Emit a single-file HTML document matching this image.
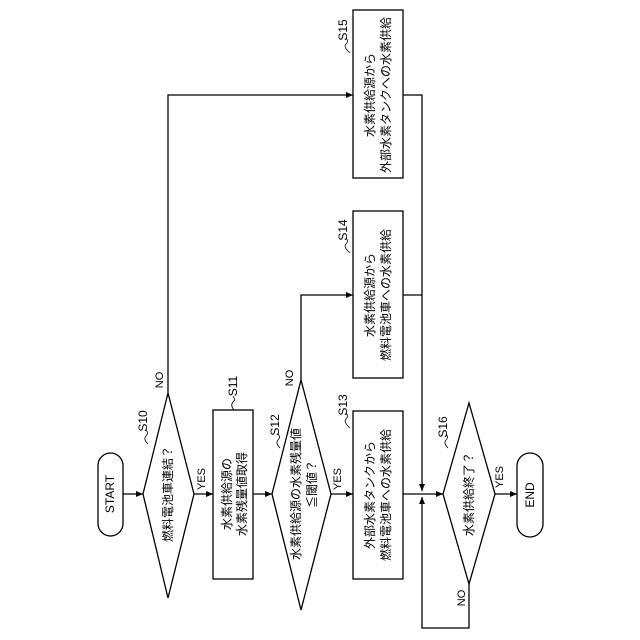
<!DOCTYPE html>
<html><head><meta charset="utf-8"><style>
html,body{margin:0;padding:0;background:#fff}
svg{display:block}
text{font-family:"Liberation Sans","Noto Sans CJK JP",sans-serif;font-size:12px;fill:#000}
</style></head><body>
<svg width="640" height="640" viewBox="0 0 640 640" xmlns="http://www.w3.org/2000/svg">
<defs>
<marker id="a" markerWidth="8" markerHeight="8" refX="7" refY="4" orient="auto" markerUnits="userSpaceOnUse">
<path d="M0,1 L7,4 L0,7 Z" fill="#000"/></marker>
</defs>
<g stroke="#000" stroke-width="1.3" fill="none">
<!-- shapes -->
<rect x="98" y="453" width="25" height="83" rx="12.5"/>
<polygon points="143,494 168,393 194,494 168,598"/>
<rect x="213" y="410" width="40" height="169"/>
<polygon points="272,494 301,380 331,494 301,610"/>
<rect x="353" y="411" width="50" height="168"/>
<rect x="353" y="211" width="50" height="167"/>
<rect x="353" y="10" width="50" height="168"/>
<polygon points="443,494 469,403 495,494 469,584"/>
<rect x="517" y="453" width="26" height="84" rx="13"/>
<!-- connectors -->
<line x1="123" y1="494" x2="143" y2="494" marker-end="url(#a)"/>
<line x1="194" y1="494" x2="213" y2="494" marker-end="url(#a)"/>
<line x1="253" y1="494" x2="272" y2="494" marker-end="url(#a)"/>
<line x1="331" y1="494" x2="353" y2="494" marker-end="url(#a)"/>
<polyline points="168,393 168,95 353,95" marker-end="url(#a)"/>
<polyline points="301,380 301,295 353,295" marker-end="url(#a)"/>
<polyline points="403,95 422,95 422,491" marker-end="url(#a)"/>
<line x1="403" y1="295" x2="422" y2="295"/>
<polyline points="469,584 469,628 422,628 422,497" marker-end="url(#a)"/>
<line x1="403" y1="494" x2="443" y2="494" marker-end="url(#a)"/>
<line x1="495" y1="494" x2="517" y2="494" marker-end="url(#a)"/>
<!-- squiggles -->
<path d="M146,430 q3,3 0,6 q-3,3 2,8" stroke-width="0.8"/>
<path d="M233,396 q3,4 0,6 q-3,3 1,8" stroke-width="0.8"/>
<path d="M278,434 q3,3 0,6 q-3,3 2,8" stroke-width="0.8"/>
<path d="M346,413 q3,3 0,6 q-3,3 4,9" stroke-width="0.8"/>
<path d="M346,238 q3,3 0,6 q-3,3 4,9" stroke-width="0.8"/>
<path d="M346,38 q3,3 0,6 q-3,3 4,9" stroke-width="0.8"/>
<path d="M446,434 q3,3 0,6 q-3,3 2,8" stroke-width="0.8"/>
</g>
<g text-anchor="middle" dominant-baseline="central">
<text transform="translate(110,494) rotate(-90)">START</text>
<text transform="translate(168,494) rotate(-90)">燃料電池車連結？</text>
<text transform="translate(227,494) rotate(-90)">水素供給源の</text>
<text transform="translate(242,494) rotate(-90)">水素残量値取得</text>
<text transform="translate(296,494) rotate(-90)">水素供給源の水素残量値</text>
<text transform="translate(312,484) rotate(-90)">≦閾値？</text>
<text transform="translate(370,495) rotate(-90)">外部水素タンクから</text>
<text transform="translate(386,495) rotate(-90)">燃料電池車への水素供給</text>
<text transform="translate(370,295) rotate(-90)">水素供給源から</text>
<text transform="translate(386,295) rotate(-90)">燃料電池車への水素供給</text>
<text transform="translate(370,95) rotate(-90)">水素供給源から</text>
<text transform="translate(386,95) rotate(-90)">外部水素タンクへの水素供給</text>
<text transform="translate(469,494) rotate(-90)">水素供給終了？</text>
<text transform="translate(530,495) rotate(-90)">END</text>
<text transform="translate(143,421) rotate(-90)">S10</text>
<text transform="translate(233,386) rotate(-90)">S11</text>
<text transform="translate(275,425) rotate(-90)">S12</text>
<text transform="translate(343,405) rotate(-90)">S13</text>
<text transform="translate(343,230) rotate(-90)">S14</text>
<text transform="translate(343,30) rotate(-90)">S15</text>
<text transform="translate(443,427) rotate(-90)">S16</text>
<text transform="translate(202,479) rotate(-90)" style="font-size:11px">YES</text>
<text transform="translate(338,479) rotate(-90)" style="font-size:11px">YES</text>
<text transform="translate(500,477) rotate(-90)" style="font-size:11px">YES</text>
<text transform="translate(160,380) rotate(-90)" style="font-size:11px">NO</text>
<text transform="translate(290,378) rotate(-90)" style="font-size:11px">NO</text>
<text transform="translate(462,598) rotate(-90)" style="font-size:11px">NO</text>
</g>
</svg>
</body></html>
